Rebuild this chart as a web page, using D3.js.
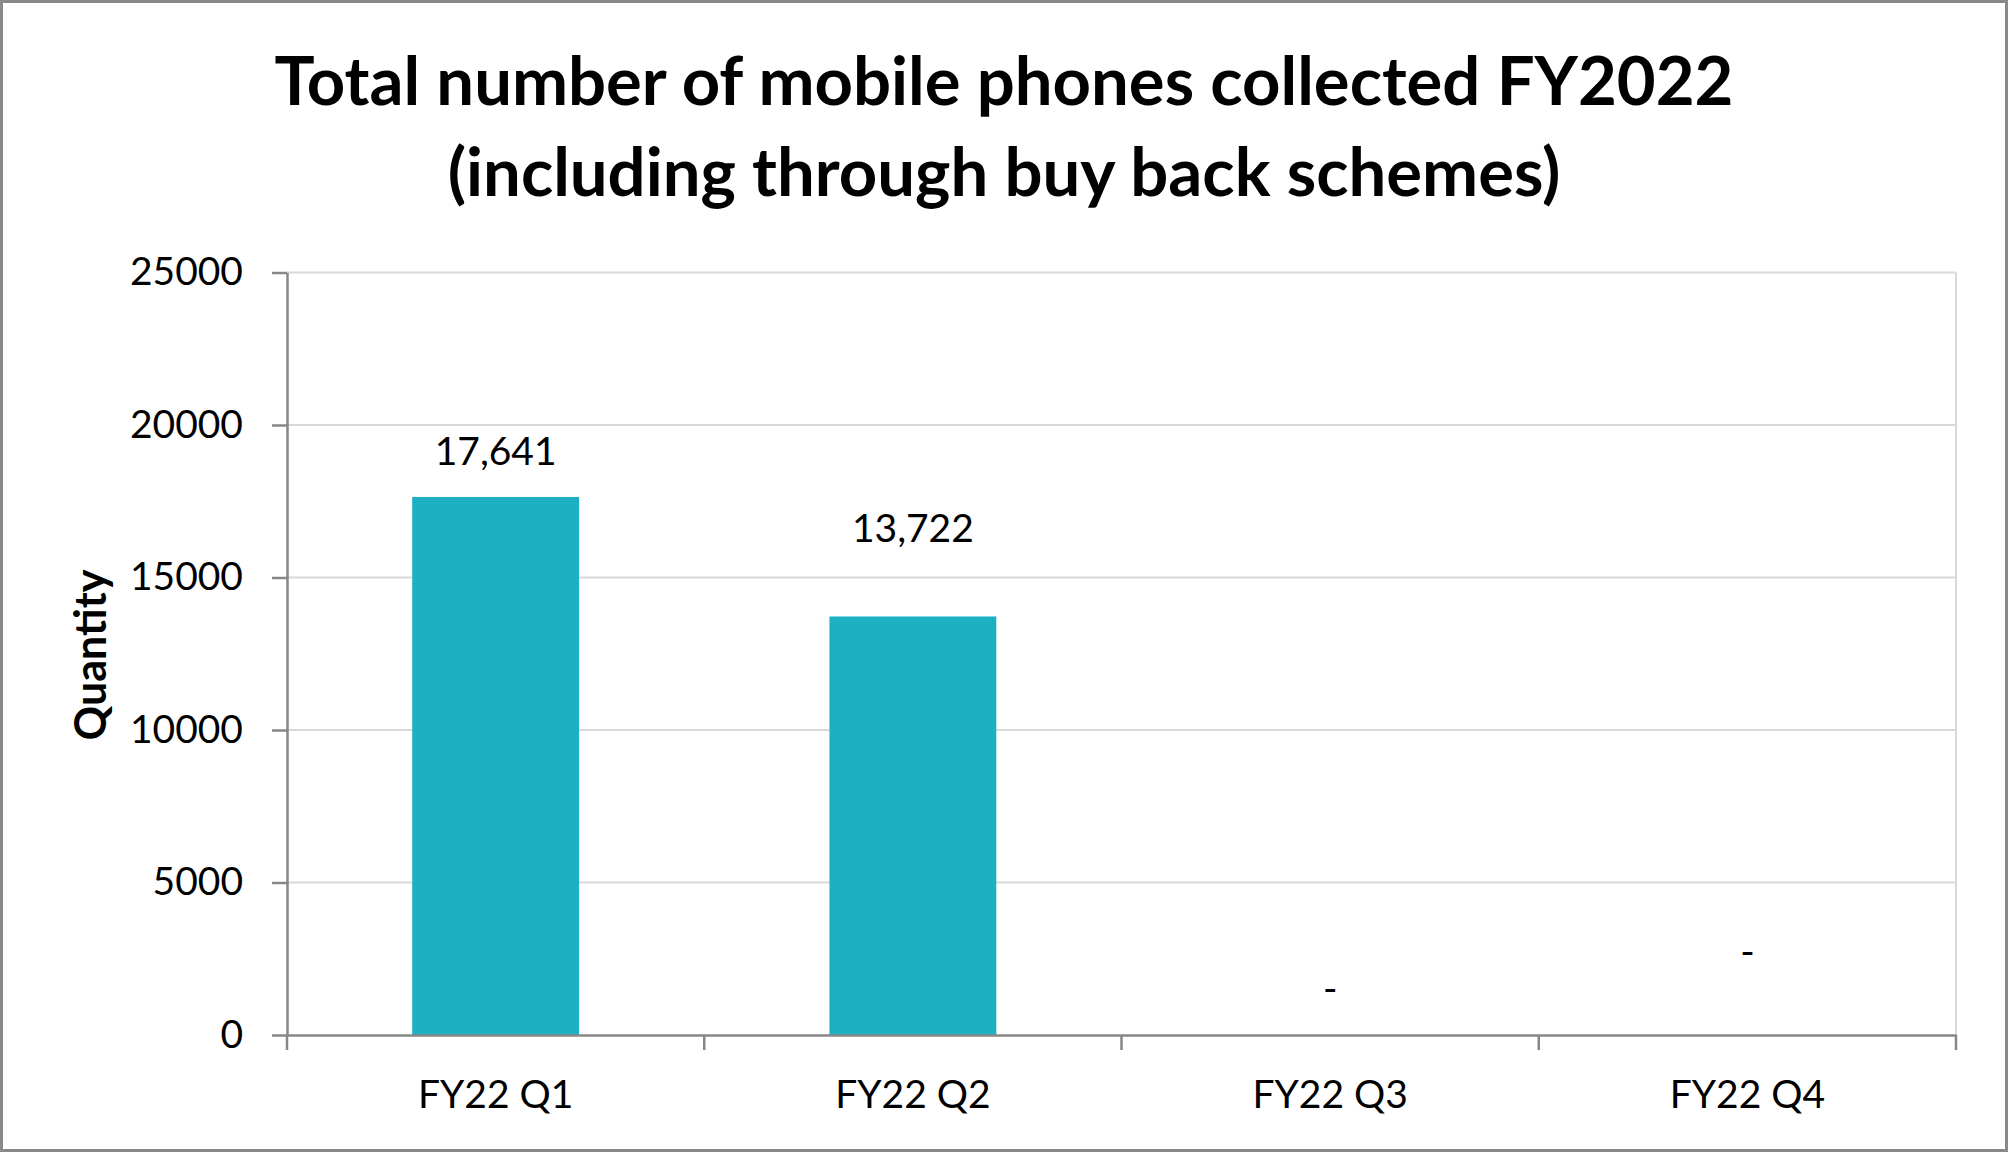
<!DOCTYPE html>
<meta charset="utf-8">
<style>
    body { margin: 0; background: #fff; }
    text { font-family: Lato, "Open Sans", sans-serif; fill: #000; }
</style>

<!-- load the d3.js library -->
<script src="https://d3js.org/d3.v7.min.js"></script>

<div id="phones_chart"></div>

<script>

    // Chart data
    var quarters = ["FY22 Q1", "FY22 Q2", "FY22 Q3", "FY22 Q4"];
    var phonesCollected = [17641, 13722, 0, 0];
    var yTicks = [0, 5000, 10000, 15000, 20000, 25000];
    var titleLines = ["Total number of mobile phones collected FY2022",
                      "(including through buy back schemes)"];
    var yTitle = "Quantity";

    // Page and plot dimensions
    var fullWidth = 2008, fullHeight = 1152;
    var margin = {top: 272.5, right: 52, bottom: 117, left: 287},
        width = fullWidth - margin.left - margin.right,
        height = fullHeight - margin.top - margin.bottom;

    var axisColor = "#878787",
        gridColor = "#d9d9d9",
        barColor = "#1db0c3";

    // data labels were nudged by hand in the original, lift in px above bar top
    var labelLift = [32, 74, 33, 70];

    var svg = d3.select("#phones_chart")
        .append("svg")
        .attr("width", fullWidth)
        .attr("height", fullHeight);

    // outer chart border
    svg.append("rect")
        .attr("x", 1.5).attr("y", 1.5)
        .attr("width", fullWidth - 3).attr("height", fullHeight - 3)
        .attr("fill", "#fff")
        .attr("stroke", "#898989")
        .attr("stroke-width", 3);

    // title
    svg.append("g").selectAll("text")
        .data(titleLines)
        .enter()
        .append("text")
        .attr("x", fullWidth / 2)
        .attr("y", function(d, i) { return 105 + i * 91; })
        .attr("text-anchor", "middle")
        .style("font-size", "67px")
        .style("font-weight", "bold")
        .text(function(d) { return d; });

    var g = svg.append("g")
        .attr("transform", "translate(" + margin.left + "," + margin.top + ")");

    // scales
    var x = d3.scaleBand()
        .domain(quarters)
        .range([0, width])
        .padding(0);

    var y = d3.scaleLinear()
        .domain([0, 25000])
        .range([height, 0]);

    // gridlines
    g.selectAll(".grid")
        .data(yTicks.filter(function(d) { return d > 0; }))
        .enter()
        .append("line")
        .attr("class", "grid")
        .attr("x1", 0)
        .attr("x2", width)
        .attr("y1", function(d) { return y(d); })
        .attr("y2", function(d) { return y(d); })
        .attr("stroke", gridColor)
        .attr("stroke-width", 2);

    // right border of plot area
    g.append("line")
        .attr("x1", width).attr("x2", width)
        .attr("y1", 0).attr("y2", height)
        .attr("stroke", gridColor)
        .attr("stroke-width", 2);

    // bars, 40% of the category width
    var barW = x.bandwidth() * 0.4;
    g.selectAll(".bar")
        .data(quarters)
        .enter()
        .append("rect")
        .attr("class", "bar")
        .attr("x", function(d) { return x(d) + (x.bandwidth() - barW) / 2; })
        .attr("width", barW)
        .attr("y", function(d, i) { return y(phonesCollected[i]); })
        .attr("height", function(d, i) { return height - y(phonesCollected[i]); })
        .style("fill", barColor);

    // data labels ("-" for zero, as the accounting format shows it)
    var fmt = d3.format(",");
    g.selectAll(".label")
        .data(quarters)
        .enter()
        .append("text")
        .attr("class", "label")
        .attr("x", function(d) { return x(d) + x.bandwidth() / 2; })
        .attr("y", function(d, i) { return y(phonesCollected[i]) - labelLift[i]; })
        .attr("text-anchor", "middle")
        .style("font-size", "39px")
        .text(function(d, i) { return phonesCollected[i] === 0 ? "-" : fmt(phonesCollected[i]); });

    // y axis
    var yAxis = g.append("g")
        .call(d3.axisLeft(y).tickValues(yTicks).tickFormat(d3.format("d"))
            .tickSize(15).tickSizeOuter(0).tickPadding(29));
    yAxis.selectAll("text").style("font-size", "39px").attr("fill", "#000");

    // x axis, labels at band centres
    var xAxis = g.append("g")
        .attr("transform", "translate(0," + height + ")")
        .call(d3.axisBottom(x).tickSize(0).tickPadding(45));
    xAxis.selectAll("text").style("font-size", "39px").attr("fill", "#000");

    // x tick marks sit on the category boundaries
    g.append("g")
        .attr("transform", "translate(0," + height + ")")
        .selectAll("line")
        .data(quarters.map(function(d) { return x(d); }).concat([width]))
        .enter()
        .append("line")
        .attr("x1", function(d) { return d; })
        .attr("x2", function(d) { return d; })
        .attr("y1", 0)
        .attr("y2", 15)
        .attr("stroke", axisColor)
        .attr("stroke-width", 2.5);

    // style axis lines
    g.selectAll(".domain, .tick line")
        .attr("stroke", axisColor)
        .attr("stroke-width", 2.5);

    // y axis title
    svg.append("text")
        .attr("transform", "rotate(-90)")
        .attr("x", -655)
        .attr("y", 106)
        .attr("text-anchor", "middle")
        .style("font-size", "43px")
        .style("font-weight", "bold")
        .text(yTitle);

</script>
